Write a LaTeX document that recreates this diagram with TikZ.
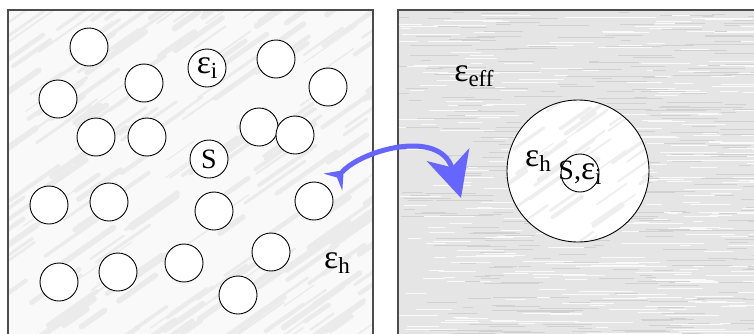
\documentclass[tikz,border=0pt]{standalone}
\usepackage{fontspec}
\setmainfont{Liberation Serif}
\usetikzlibrary{arrows.meta}

\tikzset{
    grain/.style={draw=black, line width=0.9pt, circle, fill=white, minimum size=38pt, inner sep=0pt},
    panel/.style={draw=black!70, line width=1.1pt},
    sym/.style={inner sep=0pt, font=\fontsize{28}{31}\selectfont}
}
\newcommand{\epsl}[1]{\scalebox{1.2}{ε}\raisebox{-0.4ex}{\fontsize{23}{26}\selectfont #1}}

\begin{document}
\begin{tikzpicture}[x=1pt, y=-1pt]
    \useasboundingbox (0,0) rectangle (754,333);
    \clip (0,0) rectangle (754,333);
    \pgfmathsetseed{17}

    % Left panel: marbled host medium
    \fill[gray!5] (8,10) rectangle (373,345);
    \begin{scope}
        \clip (8,10) rectangle (373,345);
        \foreach \i in {1,...,240} {
            \pgfmathsetmacro\sx{-20+410*rnd}
            \pgfmathsetmacro\sy{0+360*rnd}
            \pgfmathsetmacro\sw{1+5*rnd}
            \pgfmathsetmacro\sl{20+40*rnd}
            \draw[gray!16, line width=\sw pt, line cap=round] (\sx,\sy) -- ++(\sl,-0.7*\sl);
        }
    \end{scope}
    \draw[panel] (8,345) -- (8,10) -- (373,10) -- (373,345);

    % Right panel: effective medium
    \fill[gray!20] (398,10) rectangle (760,345);
    \begin{scope}
        \clip (398,10) rectangle (760,345);
        \foreach \i in {1,...,700} {
            \pgfmathsetmacro\sx{390+370*rnd}
            \pgfmathsetmacro\sy{10+330*rnd}
            \pgfmathsetmacro\sl{10+50*rnd}
            \pgfmathsetmacro\sg{ifthenelse(rnd>0.5,5,36)}
            \draw[gray!\sg, line width=0.8pt] (\sx,\sy) -- ++(\sl,0);
        }
    \end{scope}
    \draw[panel] (398,345) -- (398,10) -- (760,10);

    % Inclusions
    \foreach \n/\x/\y in {a/89/47, b/144/83, c/58/99, d/276/59, e/328/87,
        f/96/137, g/147/137, h/259/127, k/295/135, l/49/205, m/109/202,
        n/214/211, o/314/201, p/271/252, q/184/263, r/118/272, s/59/282, t/238/295}
        \node[grain] (inc-\n) at (\x,\y) {};
    \node[grain, sym] (inc-eps) at (207,68) {\epsl{i}};
    \node[grain, sym] (inc-S) at (209,159) {S};
    \node[sym] (host) at (337,263) {\epsl{h}};

    % Coated sphere in the effective medium
    \fill[white] (578,171) circle (71);
    \begin{scope}
        \clip (578,171) circle (71);
        \foreach \i in {1,...,70} {
            \pgfmathsetmacro\sx{495+170*rnd}
            \pgfmathsetmacro\sy{95+170*rnd}
            \pgfmathsetmacro\sw{1+3*rnd}
            \draw[gray!13, line width=\sw pt, line cap=round] (\sx,\sy) -- ++(30,-21);
        }
    \end{scope}
    \node[grain, fill=none, minimum size=142pt] (shell) at (578,171) {};
    \node[grain] (core) at (580,173) {};
    \node[sym] at (core) {S,\epsl{i}};
    \node[sym] (shell-eps) at (538,161) {\epsl{h}};
    \node[sym] (eff) at (474,76) {\epsl{eff}};

    % Homogenisation arrow
    \coordinate (from) at (333,182);
    \coordinate (to) at (461,198);
    \draw[blue!60, line width=5pt, {Stealth[reversed, length=16pt, width=25pt, inset=6pt]}-{Stealth[length=45pt, width=44pt, inset=13pt]}]
        (from) .. controls (362,150) and (440,128) .. (to);
\end{tikzpicture}
\end{document}
